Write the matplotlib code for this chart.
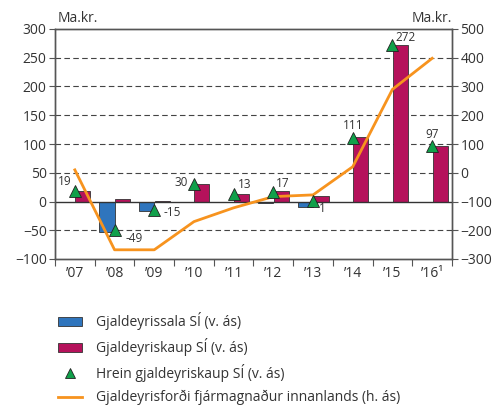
import matplotlib.pyplot as plt
import matplotlib.patches as mpatches
from matplotlib.lines import Line2D

plt.rcParams['font.family'] = ['Open Sans', 'DejaVu Sans']

years = ['’07', '’08', '’09', '’10', '’11', '’12', '’13', '’14', '’15', '’16¹']
sales = [0, -53, -16, 0, 0, -2, -9, -1, 0, 0]          # Gjaldeyrissala SÍ (left axis)
purchases = [19, 4, 1, 30, 13, 19, 10, 112, 272, 97]   # Gjaldeyriskaup SÍ (left axis)
net = [19, -49, -15, 30, 13, 17, 1, 111, 272, 97]      # Hrein gjaldeyriskaup SÍ (left axis)
domestic = [10, -268, -268, -170, -122, -83, -77, 21, 290, 398]  # right axis

# label offsets in pixels relative to triangle (dx, dy, ha)
label_pos = [(-3, 9, 'right'), (11, -9, 'left'), (9, -2, 'left'), (-6, 2, 'right'),
             (4, 10, 'left'), (3, 8, 'left'), (6, -8, 'left'), (0, 12, 'center'),
             (3, 8, 'left'), (0, 11, 'center')]

c_blue = '#2f75bd'
c_mag = '#b5125b'
c_green = '#10a04a'
c_orange = '#f7931e'
c_axis = '#555555'
c_text = '#333333'

fig = plt.figure(figsize=(5.04, 4.09), dpi=100)
ax = fig.add_axes([55 / 504, 150 / 409, 397 / 504, 230 / 409])
ax2 = ax.twinx()

x = list(range(len(years)))
ax.bar([i - 0.19 for i in x], sales, width=0.38, color=c_blue, edgecolor='#333333', linewidth=0.6, zorder=3)
ax.bar([i + 0.2 for i in x], purchases, width=0.38, color=c_mag, edgecolor='#333333', linewidth=0.6, zorder=3)

ax.set_xlim(-0.5, 9.5)
ax.set_ylim(-100, 300)
ax.set_yticks(range(-100, 301, 50))
for v in [-50, 50, 100, 150, 200, 250]:
    ax.axhline(v, color='#444444', lw=0.8, dashes=(5, 3), zorder=1)
ax.axhline(0, color='#333333', lw=1.0, zorder=4)

ax2.plot(x, domestic, color=c_orange, lw=2, zorder=5)
ax2.plot(x, net, transform=ax.transData, ls='none', marker='^', ms=8,
         mfc=c_green, mec='#222222', mew=0.6, zorder=6)
for i, v in enumerate(net):
    dx, dy, ha = label_pos[i]
    ax2.annotate(str(v), (i, v), xycoords=ax.transData, xytext=(dx, dy),
                 textcoords='offset pixels', ha=ha, va='center', fontsize=8.5, color=c_text, zorder=7)
ax2.set_ylim(-300, 500)
ax2.set_yticks(range(-300, 501, 100))
ax2.set_xlim(-0.5, 9.5)

ax.set_xticks([i - 0.5 for i in range(11)])
ax.set_xticklabels([])
ax.set_xticks(x, minor=True)
ax.set_xticklabels(years, minor=True)
ax.tick_params(axis='x', which='major', direction='out', length=5, color=c_axis)
ax.tick_params(axis='x', which='minor', length=0, labelsize=10, labelcolor=c_text, pad=5)
ax.tick_params(axis='y', direction='out', length=4, color=c_axis, labelsize=10, labelcolor=c_text, pad=2)
ax2.tick_params(axis='y', direction='out', length=4, color=c_axis, labelsize=10, labelcolor=c_text, pad=2)

for a in (ax, ax2):
    for s in a.spines.values():
        s.set_color(c_axis)
        s.set_linewidth(1.0)

fig.text(58 / 504, 1 - 18 / 409, 'Ma.kr.', fontsize=10, color=c_text, va='center', ha='left')
fig.text(452 / 504, 1 - 18 / 409, 'Ma.kr.', fontsize=10, color=c_text, va='center', ha='right')

handles = [
    mpatches.Patch(facecolor=c_blue, edgecolor='#333333', linewidth=0.6),
    mpatches.Patch(facecolor=c_mag, edgecolor='#333333', linewidth=0.6),
    Line2D([], [], ls='none', marker='^', ms=7, mfc=c_green, mec='#222222', mew=0.6),
    Line2D([], [], color=c_orange, lw=2),
]
labels = ['Gjaldeyrissala SÍ (v. ás)', 'Gjaldeyriskaup SÍ (v. ás)',
          'Hrein gjaldeyriskaup SÍ (v. ás)', 'Gjaldeyrisforði fjármagnaður innanlands (h. ás)']
leg = fig.legend(handles, labels, loc='upper left', bbox_to_anchor=(58 / 504, 1 - 312 / 409),
                 frameon=False, fontsize=10, labelspacing=0.58, handlelength=1.75,
                 handleheight=0.6, handletextpad=1.0, borderpad=0, borderaxespad=0)
for t in leg.get_texts():
    t.set_color(c_text)

fig.savefig('out.png', dpi=100)
